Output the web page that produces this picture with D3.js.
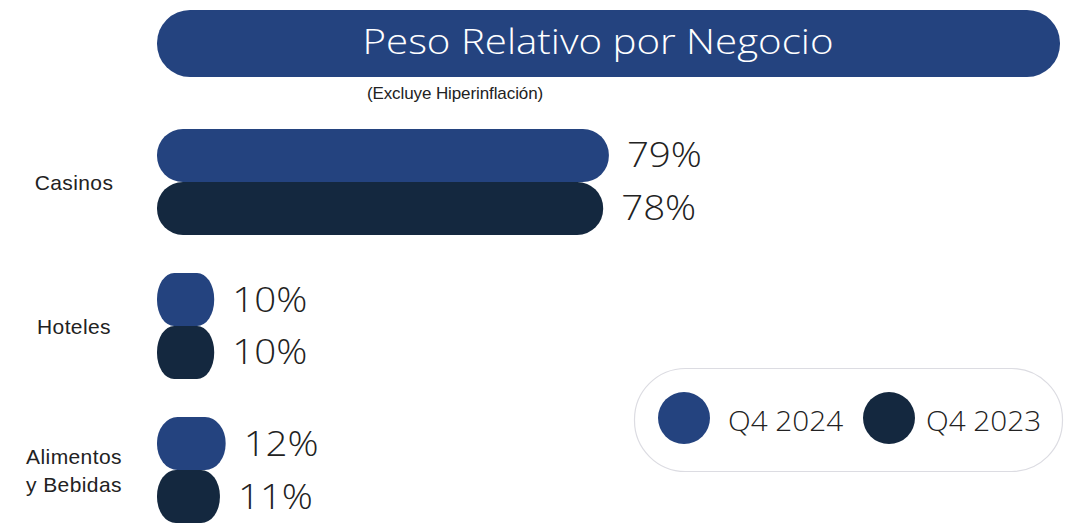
<!DOCTYPE html>
<html><head><meta charset="utf-8">
<script src="https://cdn.jsdelivr.net/npm/d3@7"></script>
<style>body{margin:0;background:#fff;} svg{display:block;}</style>
</head><body>
<svg id="c" width="1074" height="523"></svg>
<script>
const categories = ["Casinos", "Hoteles", "Alimentos\ny Bebidas"];
const series = ["Q4 2024", "Q4 2023"];
const q4_2024 = [79, 10, 12];
const q4_2023 = [78, 10, 11];
const title = "Peso Relativo por Negocio";
const subtitle = "(Excluye Hiperinflación)";
const colors = ["#24437F", "#14283F"];

const svg = d3.select("#c");
const valueFont = "'Open Sans', sans-serif";

function wideText(parent, x, y, sx, size, txt, anchor) {
  return parent.append("text")
    .attr("transform", `translate(${x},${y}) scale(${sx},1)`)
    .attr("text-anchor", anchor || "start")
    .attr("font-family", valueFont).attr("font-weight", 300)
    .attr("font-size", size).text(txt);
}

// title pill
svg.append("rect").attr("x", 157).attr("y", 10).attr("width", 903).attr("height", 67)
  .attr("rx", 33).attr("fill", colors[0]);
wideText(svg, 598, 54, 1.15, 35, title, "middle").attr("fill", "#fff");
svg.append("text").attr("x", 455).attr("y", 99).attr("text-anchor", "middle")
  .attr("fill", "#222").attr("font-family", "'Liberation Sans Narrow', 'Liberation Sans', sans-serif")
  .attr("font-size", 17).attr("letter-spacing", -0.1).text(subtitle);

const x = d3.scaleLinear().domain([0, 100]).range([157, 729]);
const y = d3.scaleBand().domain(categories).range([129, 523]).paddingInner(0.264).paddingOuter(0);
const ySub = d3.scaleBand().domain(series).range([0, y.bandwidth()]);

const data = categories.map((c, i) => ({cat: c, vals: [q4_2024[i], q4_2023[i]]}));

const g = svg.append("g");
data.forEach(d => {
  [1, 0].forEach(si => {
    const v = d.vals[si];
    const w = x(v) - x(0);
    const h = ySub.bandwidth();
    const yy = y(d.cat) + ySub(series[si]);
    g.append("rect").attr("x", x(0)).attr("y", yy).attr("width", w).attr("height", h)
      .attr("rx", Math.min(26, w * 0.3)).attr("ry", 26).attr("fill", colors[si]);
    wideText(g, x(v) + 18, yy + h / 2 + 12, 1.1, 35, v + "%").attr("fill", "#222");
  });
  const lines = d.cat.split("\n");
  const cy = y(d.cat) + y.bandwidth() / 2;
  const t = svg.append("text").attr("text-anchor", "middle")
    .attr("font-family", "'Liberation Sans', Arial, sans-serif").attr("font-size", 21)
    .attr("letter-spacing", 0.4).attr("fill", "#222");
  lines.forEach((l, li) => {
    t.append("tspan").attr("x", 74)
      .attr("y", cy + 8 + (li - (lines.length - 1) / 2) * 28).text(l);
  });
});

// legend
const lg = svg.append("g");
lg.append("rect").attr("x", 634.5).attr("y", 368.5).attr("width", 428).attr("height", 103)
  .attr("rx", 51).attr("fill", "#fff").attr("stroke", "#dcdce2").attr("stroke-width", 1.2);
const legCircleX = [684, 889];
const legTextX = [728, 926];
series.forEach((s, i) => {
  lg.append("circle").attr("cx", legCircleX[i]).attr("cy", 418).attr("r", 26).attr("fill", colors[i]);
  wideText(lg, legTextX[i], 431, 1.1, 27, s).attr("fill", "#222");
});
</script>
</body></html>
